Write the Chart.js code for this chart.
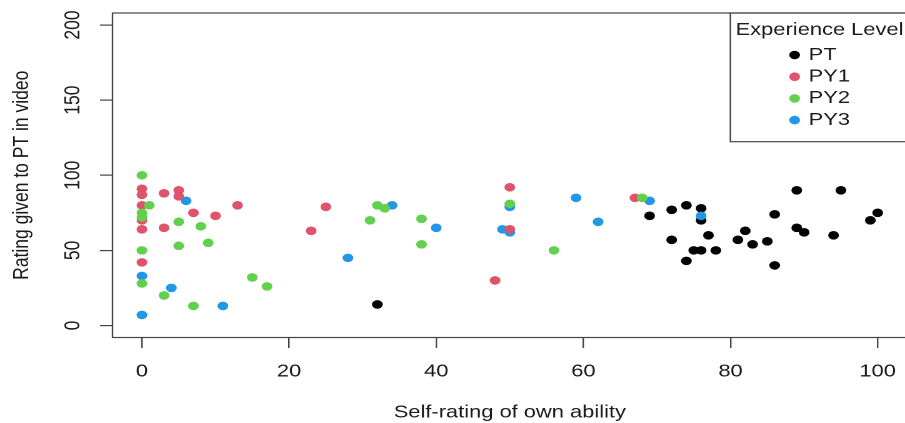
<!DOCTYPE html>
<html>
<head>
<meta charset="utf-8">
<script src="https://cdn.jsdelivr.net/npm/chart.js@4.4.1/dist/chart.umd.min.js"></script>
<style>
  html, body { margin: 0; padding: 0; background: #fff; overflow: hidden; }
  #frame { width: 905px; height: 423px; overflow: hidden; }
  /* the reference is a horizontally stretched screenshot, so stretch the canvas the same way */
  #stretch { width: 730px; height: 423px; transform: scaleX(1.25); transform-origin: 0 0; }
</style>
</head>
<body>
<div id="frame"><div id="stretch">
  <canvas id="myChart" width="730" height="423" style="width:730px;height:423px"></canvas>
</div></div>
<script>
const groups = ["PT", "PY1", "PY2", "PY3"];
const groupColors = ["#000000", "#DF536B", "#61D04F", "#2297E6"];

const ptSelf = [32, 69, 72, 74, 76, 76, 72, 77, 75, 76, 78, 74, 82, 81, 83, 85, 86, 86, 89, 89, 90, 95, 94, 100, 99];
const ptRating = [14, 73, 77, 80, 78, 70, 57, 60, 50, 50, 50, 43, 63, 57, 54, 56, 74, 40, 90, 65, 62, 90, 60, 75, 70];

const py1Self = [0, 0, 3, 5, 5, 0, 0, 0, 3, 7, 10, 13, 25, 23, 50, 50, 48, 67, 0];
const py1Rating = [91, 87, 88, 90, 86, 80, 70, 64, 65, 75, 73, 80, 79, 63, 92, 64, 30, 85, 42];

const py2Self = [0, 1, 0, 0, 5, 8, 5, 9, 0, 0, 3, 7, 15, 17, 32, 33, 31, 38, 38, 50, 56, 68];
const py2Rating = [100, 80, 75, 72, 69, 66, 53, 55, 50, 28, 20, 13, 32, 26, 80, 78, 70, 71, 54, 81, 50, 85];

const py3Self = [6, 0, 4, 11, 0, 28, 34, 40, 50, 49, 50, 59, 62, 69, 76];
const py3Rating = [83, 33, 25, 13, 7, 45, 80, 65, 79, 64, 62, 85, 69, 83, 73];

const xTicks = [0, 20, 40, 60, 80, 100];
const yTicks = [0, 50, 100, 150, 200];

const textColor = "#1a1a1a";
const lineColor = "#444";
const fontSize = 17.5;

Chart.defaults.font.family = "'Liberation Sans', Arial, Helvetica, sans-serif";
Chart.defaults.font.size = fontSize;
Chart.defaults.color = textColor;

function toPoints(xs, ys) {
  return xs.map((x, i) => ({ x: x, y: ys[i] }));
}

const seriesX = [ptSelf, py1Self, py2Self, py3Self];
const seriesY = [ptRating, py1Rating, py2Rating, py3Rating];
const drawOrder = [3, 1, 0, 2]; // lower order ends up on top

const ctx = document.getElementById("myChart").getContext("2d");

new Chart(ctx, {
  type: "scatter",
  data: {
    datasets: groups.map((g, i) => ({
      label: g,
      data: toPoints(seriesX[i], seriesY[i]),
      backgroundColor: groupColors[i],
      borderWidth: 0,
      pointRadius: 4.3,
      pointHoverRadius: 4.3,
      order: drawOrder[i],
    })),
  },
  options: {
    responsive: false,
    animation: false,
    devicePixelRatio: 2,
    layout: {
      padding: { top: 13, right: 3.2, left: 0, bottom: 0 },
    },
    plugins: {
      legend: { display: false },
      tooltip: { enabled: false },
    },
    scales: {
      x: {
        type: "linear",
        min: -4,
        max: 104,
        afterBuildTicks: (scale) => {
          scale.ticks = xTicks.map((v) => ({ value: v }));
        },
        afterFit: (scale) => {
          scale.height = 85.5;
        },
        grid: {
          drawOnChartArea: false,
          tickLength: 10.5,
          color: lineColor,
          lineWidth: 1.2,
        },
        border: { display: false },
        ticks: { padding: 13, autoSkip: false, maxRotation: 0, color: textColor },
        title: {
          display: true,
          text: "Self-rating of own ability",
          color: textColor,
          padding: { top: 0, bottom: 0 },
        },
      },
      y: {
        type: "linear",
        min: -8,
        max: 208,
        afterBuildTicks: (scale) => {
          scale.ticks = yTicks.map((v) => ({ value: v }));
        },
        afterFit: (scale) => {
          scale.width = 90;
        },
        grid: {
          drawOnChartArea: false,
          tickLength: 10,
          color: lineColor,
          lineWidth: 1.2,
        },
        border: { display: false },
        ticks: { display: false }, // drawn rotated below
        title: {
          display: true,
          text: "Rating given to PT in video",
          color: textColor,
          padding: { top: 7, bottom: 0 },
        },
      },
    },
  },
  plugins: [
    {
      id: "rStyleFrame",
      afterDraw(chart) {
        const { ctx, chartArea, scales } = chart;
        ctx.save();

        // plot box
        ctx.strokeStyle = lineColor;
        ctx.lineWidth = 1.2;
        ctx.strokeRect(chartArea.left, chartArea.top, chartArea.right - chartArea.left, chartArea.bottom - chartArea.top);

        // y tick labels, rotated like R's las=0
        ctx.fillStyle = textColor;
        ctx.font = fontSize + "px 'Liberation Sans', Arial, sans-serif";
        ctx.textAlign = "center";
        ctx.textBaseline = "middle";
        yTicks.forEach((v) => {
          const py = scales.y.getPixelForValue(v);
          ctx.save();
          ctx.translate(chartArea.left - 31.4, py);
          ctx.rotate(-Math.PI / 2);
          ctx.fillText(String(v), 0, 0);
          ctx.restore();
        });

        // legend box in the top right corner
        const boxLeft = chartArea.right - 141.4;
        const boxBottom = chartArea.top + 128.7;
        ctx.strokeRect(boxLeft, chartArea.top, chartArea.right - boxLeft, boxBottom - chartArea.top);

        ctx.textAlign = "left";
        ctx.fillText("Experience Level", boxLeft + 4.2, chartArea.top + 17);

        groups.forEach((g, i) => {
          const cy = chartArea.top + 42 + i * 21.7;
          ctx.fillStyle = groupColors[i];
          ctx.beginPath();
          ctx.arc(boxLeft + 51.4, cy, 4.3, 0, Math.PI * 2);
          ctx.fill();
          ctx.fillStyle = textColor;
          ctx.fillText(g, boxLeft + 62.6, cy);
        });

        ctx.restore();
      },
    },
  ],
});
</script>
</body>
</html>
